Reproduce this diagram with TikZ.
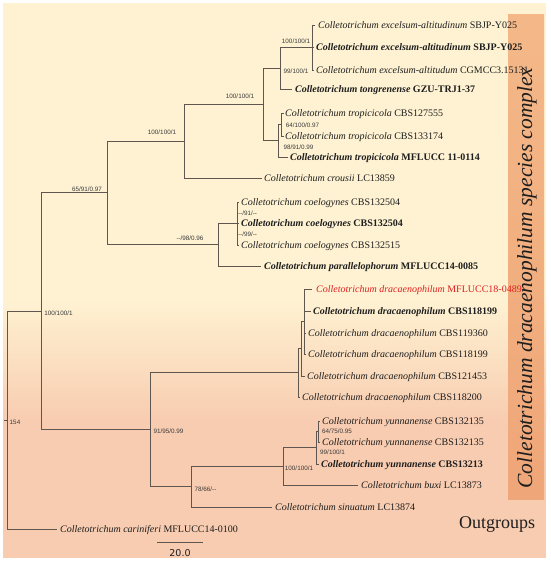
\documentclass[tikz,border=0pt]{standalone}
\usepackage{fontspec}
\setmainfont{Liberation Serif}
\newfontfamily\suppfont{Liberation Sans}
\newfontfamily\numfont{DejaVu Sans}
\begin{document}
\begin{tikzpicture}[x=1pt,y=-1pt]
\definecolor{cream}{HTML}{FEF2D2}
\definecolor{peach}{HTML}{F8CCB0}
\definecolor{bartop}{HTML}{F4B888}
\definecolor{barbot}{HTML}{EFA678}
\definecolor{treecol}{HTML}{5E564F}
\definecolor{tipcol}{HTML}{1E1E1E}
\definecolor{supcol}{HTML}{3A3A3A}
\definecolor{redtip}{HTML}{E0201E}
\tikzset{
 tree/.style={draw=treecol, line width=0.9pt},
 tip/.style={anchor=west, inner sep=0pt, text height=7.5pt, text depth=0.9pt, font=\fontsize{10}{12}\selectfont, text=tipcol},
 sup/.style={inner sep=0pt, font=\suppfont\fontsize{6.3}{7}\selectfont, text=supcol},
}
\useasboundingbox (0,0) rectangle (550,564);
% background
\fill[white] (0,0) rectangle (550,564);
\fill[cream] (3,3) rectangle (546,300.5);
\shade[top color=cream, bottom color=peach] (3,300) rectangle (546,420.5);
\fill[peach] (3,420) rectangle (546,558);
\shade[top color=bartop, bottom color=barbot] (508,15) rectangle (544,499);
\node[rotate=90, inner sep=0pt, font=\fontsize{21.5}{24}\selectfont\itshape, text=tipcol] (band) at (527,278) {Colletotrichum dracaenophilum species complex};
\node[inner sep=0pt, font=\fontsize{18}{20}\selectfont, text=tipcol] (outg) at (497,524) {Outgroups};

% internal nodes
\coordinate (R) at (7,420);
\coordinate (Rs) at (4,420);
\coordinate (E) at (41,311);
\coordinate (C) at (107,192);
\coordinate (B) at (184,141);
\coordinate (A) at (263,104);
\coordinate (Ex) at (280,68);
\coordinate (Exc) at (312,47);
\coordinate (Tr) at (278,140);
\coordinate (Tr2) at (281,124.5);
\coordinate (D) at (218,244);
\coordinate (Co) at (237,223);
\coordinate (F) at (150,429);
\coordinate (N1) at (298,372);
\coordinate (N2) at (301,348);
\coordinate (N3) at (304,321);
\coordinate (G) at (191,486);
\coordinate (H) at (283,466);
\coordinate (Y) at (316,447);
\coordinate (Y12) at (318,431);
% tip ends
\coordinate (e1) at (315,25);
\coordinate (e2) at (314,47);
\coordinate (e3) at (314,70);
\coordinate (tg) at (292,89);
\coordinate (t1) at (283.5,113);
\coordinate (t2) at (283.5,136);
\coordinate (t3) at (288,157);
\coordinate (cr) at (262,178);
\coordinate (c1) at (239,202);
\coordinate (c2) at (239,223);
\coordinate (c3) at (239,245);
\coordinate (pa) at (261,266);
\coordinate (d1) at (312,289);
\coordinate (d2) at (311,311);
\coordinate (d3) at (306,333);
\coordinate (d4) at (306,354);
\coordinate (d5) at (305,376);
\coordinate (d6) at (300,397);
\coordinate (y1) at (320,421);
\coordinate (y2) at (320,442);
\coordinate (y3) at (319,464);
\coordinate (bx) at (358,485);
\coordinate (si) at (272,507);
\coordinate (ca) at (57,529);

% branches
\draw[tree] (R) -- (Rs);
\draw[tree] (R) |- (E);
\draw[tree] (R) |- (ca);
\draw[tree] (E) |- (C);
\draw[tree] (E) |- (F);
\draw[tree] (C) |- (B);
\draw[tree] (C) |- (D);
\draw[tree] (B) |- (A);
\draw[tree] (B) |- (cr);
\draw[tree] (A) |- (Ex);
\draw[tree] (A) |- (Tr);
\draw[tree] (Ex) |- (Exc);
\draw[tree] (Ex) |- (tg);
\draw[tree] (Exc) |- (e1);
\draw[tree] (Exc) |- (e2);
\draw[tree] (Exc) |- (e3);
\draw[tree] (Tr) |- (Tr2);
\draw[tree] (Tr) |- (t3);
\draw[tree] (Tr2) |- (t1);
\draw[tree] (Tr2) |- (t2);
\draw[tree] (D) |- (Co);
\draw[tree] (D) |- (pa);
\draw[tree] (Co) |- (c1);
\draw[tree] (Co) |- (c2);
\draw[tree] (Co) |- (c3);
\draw[tree] (F) |- (N1);
\draw[tree] (F) |- (G);
\draw[tree] (N1) |- (N2);
\draw[tree] (N1) |- (d6);
\draw[tree] (N2) |- (N3);
\draw[tree] (N2) |- (d5);
\draw[tree] (N3) |- (d1);
\draw[tree] (N3) |- (d2);
\draw[tree] (N3) |- (d3);
\draw[tree] (N3) |- (d4);
\draw[tree] (G) |- (H);
\draw[tree] (G) |- (si);
\draw[tree] (H) |- (Y);
\draw[tree] (H) |- (bx);
\draw[tree] (Y) |- (Y12);
\draw[tree] (Y) |- (y3);
\draw[tree] (Y12) |- (y1);
\draw[tree] (Y12) |- (y2);

% tip labels
\node[tip] (L1) at (318,25) {\textit{Colletotrichum excelsum-altitudinum} SBJP-Y025};
\node[tip] (L2) at (316,47) {\textbf{\textit{Colletotrichum excelsum-altitudinum} SBJP-Y025}};
\node[tip] (L3) at (316,70) {\textit{Colletotrichum excelsum-altitudum} CGMCC3.15131};
\node[tip] (L4) at (295,89) {\textbf{\textit{Colletotrichum tongrenense} GZU-TRJ1-37}};
\node[tip] (L5) at (285,113) {\textit{Colletotrichum tropicicola} CBS127555};
\node[tip] (L6) at (285,136) {\textit{Colletotrichum tropicicola} CBS133174};
\node[tip] (L7) at (290,157) {\textbf{\textit{Colletotrichum tropicicola} MFLUCC 11-0114}};
\node[tip] (L8) at (264,178) {\textit{Colletotrichum crousii} LC13859};
\node[tip] (L9) at (241,202) {\textit{Colletotrichum coelogynes} CBS132504};
\node[tip] (L10) at (241,223) {\textbf{\textit{Colletotrichum coelogynes} CBS132504}};
\node[tip] (L11) at (241,245) {\textit{Colletotrichum coelogynes} CBS132515};
\node[tip] (L12) at (264,266) {\textbf{\textit{Colletotrichum parallelophorum} MFLUCC14-0085}};
\node[tip, text=redtip] (L13) at (316,289) {\textit{Colletotrichum dracaenophilum} MFLUCC18-0489};
\node[tip] (L14) at (313,311) {\textbf{\textit{Colletotrichum dracaenophilum} CBS118199}};
\node[tip] (L15) at (308,333) {\textit{Colletotrichum dracaenophilum} CBS119360};
\node[tip] (L16) at (308,354) {\textit{Colletotrichum dracaenophilum} CBS118199};
\node[tip] (L17) at (307,376) {\textit{Colletotrichum dracaenophilum} CBS121453};
\node[tip] (L18) at (302,397) {\textit{Colletotrichum dracaenophilum} CBS118200};
\node[tip] (L19) at (322,421) {\textit{Colletotrichum yunnanense} CBS132135};
\node[tip] (L20) at (322,442) {\textit{Colletotrichum yunnanense} CBS132135};
\node[tip] (L21) at (321,464) {\textbf{\textit{Colletotrichum yunnanense} CBS13213}};
\node[tip] (L22) at (361,485) {\textit{Colletotrichum buxi} LC13873};
\node[tip] (L23) at (275,507) {\textit{Colletotrichum sinuatum} LC13874};
\node[tip] (L24) at (60,529) {\textit{Colletotrichum cariniferi} MFLUCC14-0100};

% support values
\node[sup] (s1) at (240,96.5) {100/100/1};
\node[sup] (s2) at (162,132.5) {100/100/1};
\node[sup] (s3) at (87,189) {65/91/0.97};
\node[sup] (s4) at (296,41) {100/100/1};
\node[sup] (s5) at (296,71) {99/100/1};
\node[sup] (s6) at (302.5,125) {64/100/0.97};
\node[sup] (s7) at (298.5,147.5) {98/91/0.99};
\node[sup] (s8) at (190,238) {--/98/0.96};
\node[sup] (s9) at (247.5,213) {--/91/--};
\node[sup] (s10) at (247.5,234) {--/99/--};
\node[sup] (s11) at (58.5,313.5) {100/100/1};
\node[sup] (s12) at (15,422) {154};
\node[sup] (s13) at (168.5,431) {91/95/0.99};
\node[sup] (s14) at (205.5,489) {78/66/--};
\node[sup] (s15) at (299,468) {100/100/1};
\node[sup] (s16) at (337,431) {64/75/0.95};
\node[sup] (s17) at (332.5,452) {99/100/1};

% scale bar
\coordinate (sb1) at (157,542);
\coordinate (sb2) at (203,542);
\draw[tree] (sb1) -- (sb2);
\node[inner sep=0pt, font=\numfont\fontsize{9.5}{11}\selectfont, text=tipcol] (sbl) at (180,553) {20.0};
\end{tikzpicture}
\end{document}
